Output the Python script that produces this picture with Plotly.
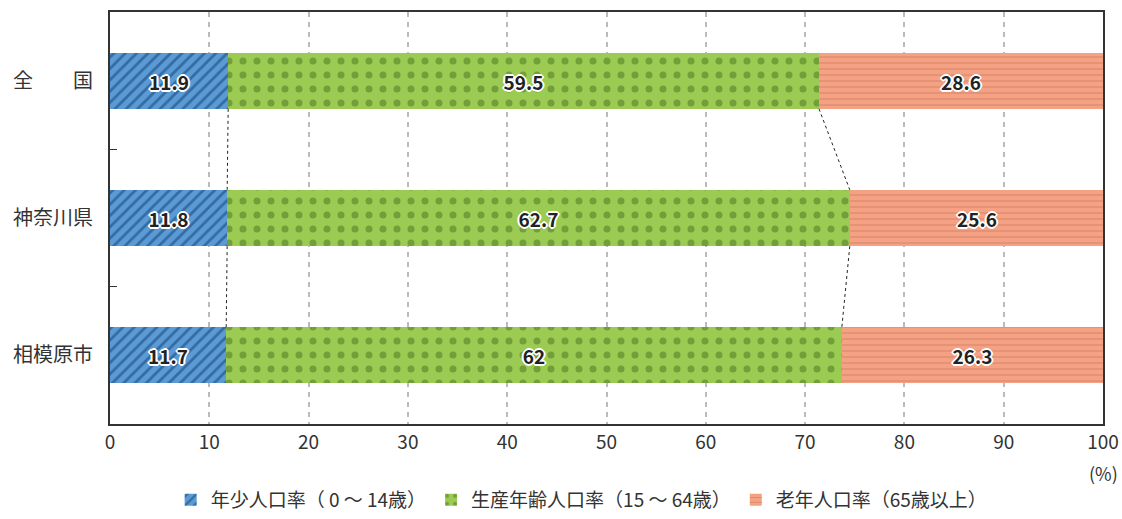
import plotly.graph_objects as go

# 年齢3区分別人口割合
areas = ["全　　国", "神奈川県", "相模原市"]
young = [11.9, 11.8, 11.7]
working = [59.5, 62.7, 62.0]
old = [28.6, 25.6, 26.3]
young_txt = ["11.9", "11.8", "11.7"]
working_txt = ["59.5", "62.7", "62"]
old_txt = ["28.6", "25.6", "26.3"]
series_names = ["年少人口率（ 0 ～ 14歳）", "生産年齢人口率（15 ～ 64歳）", "老年人口率（65歳以上）"]

FONT = "Noto Sans CJK JP"
BAR_W = 0.41
ypos = list(range(len(areas)))

outline = ("1px 1px 0 #fff, -1px -1px 0 #fff, 1px -1px 0 #fff, -1px 1px 0 #fff, "
           "0 2px 0 #fff, 0 -2px 0 #fff, 2px 0 0 #fff, -2px 0 0 #fff")

styles = [
    dict(color="#5B9BD5", fg="#2E6199", shape="/", size=8, solidity=0.35, op=0.85),
    dict(color="#9BCB52", fg="#6E9A38", shape=".", size=14, solidity=0.2, op=0.9),
    dict(color="#F4A184", fg="#B8634B", shape="-", size=6, solidity=0.15, op=0.55),
]

fig = go.Figure()
for vals, txt, name, st in zip([young, working, old], [young_txt, working_txt, old_txt],
                               series_names, styles):
    fig.add_trace(go.Bar(
        y=ypos, x=vals, name=name, orientation="h", width=BAR_W,
        text=txt, textposition="inside", insidetextanchor="middle", textangle=0,
        textfont=dict(family=FONT, size=19, color="#222", weight="bold", shadow=outline),
        marker=dict(color=st["color"], line=dict(width=0),
                    pattern=dict(shape=st["shape"], fgcolor=st["fg"], bgcolor=st["color"],
                                 size=st["size"], solidity=st["solidity"], fgopacity=st["op"])),
        hoverinfo="skip",
    ))

# 系列線（区分の境目をつなぐ点線）
cum1 = young
cum2 = [a + b for a, b in zip(young, working)]
for cum in (cum1, cum2):
    for i in range(len(areas) - 1):
        fig.add_trace(go.Scatter(
            x=[cum[i], cum[i + 1]], y=[i + BAR_W / 2, i + 1 - BAR_W / 2],
            mode="lines", line=dict(color="#222", width=1, dash="dot"),
            showlegend=False, hoverinfo="skip",
        ))

# 目盛りだけの軸（区分の間）
fig.add_trace(go.Scatter(x=[None], y=[None], yaxis="y2", showlegend=False))

fig.update_layout(
    width=1122, height=519,
    barmode="stack", bargap=0,
    plot_bgcolor="white", paper_bgcolor="white",
    margin=dict(l=110, r=19, t=12, b=95),
    font=dict(family=FONT, color="#333"),
    xaxis=dict(range=[0, 100], dtick=10, showgrid=True, gridcolor="#BBBBBB", gridwidth=1.5,
               griddash="5px,5px", zeroline=False, showline=True, linecolor="#333",
               linewidth=2, mirror=True, ticks="", automargin=False,
               tickfont=dict(size=19, color="#333")),
    yaxis=dict(range=[2.5, -0.5], tickvals=ypos, ticktext=areas, showgrid=False,
               zeroline=False, showline=True, linecolor="#333", linewidth=2, mirror=True,
               ticks="", automargin=False, tickfont=dict(size=20, color="#333"),
               ticklabelstandoff=11),
    yaxis2=dict(overlaying="y", range=[2.5, -0.5], tickvals=[0.5, 1.5], ticks="inside",
                ticklen=7, tickcolor="#333", showticklabels=False, showgrid=False,
                zeroline=False, side="left", anchor="x"),
    legend=dict(orientation="h", xref="paper", x=0.475, xanchor="center",
                yref="container", y=0.0, yanchor="bottom",
                font=dict(size=19, color="#333"), itemwidth=30, traceorder="normal"),
    annotations=[dict(text="(%)", x=100, xref="x", y=-0.12, yref="paper",
                      showarrow=False, font=dict(size=18, color="#333"),
                      xanchor="center", yanchor="middle")],
)

fig.write_html("out.html", config={"displayModeBar": False},
               post_script="document.body.style.margin='0';")
